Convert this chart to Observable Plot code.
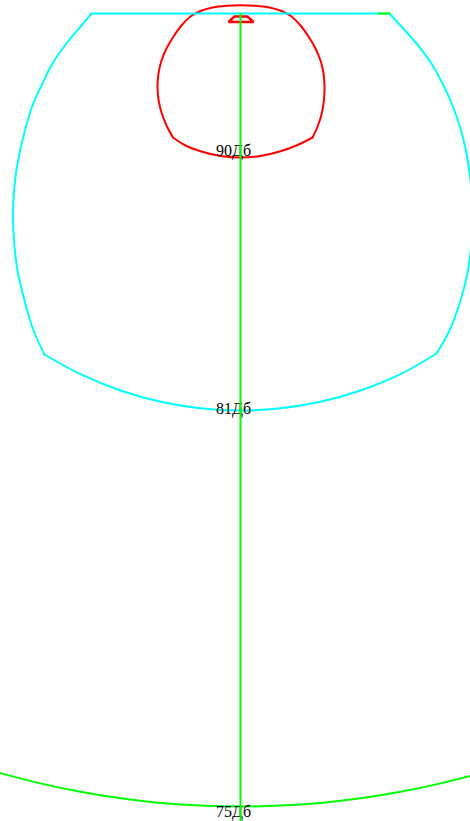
<!DOCTYPE html>
<html>
<head>
<meta charset="utf-8">
<script src="https://cdn.jsdelivr.net/npm/d3@7"></script>
<script src="https://cdn.jsdelivr.net/npm/@observablehq/plot@0.6"></script>
<style>
  html, body { margin: 0; padding: 0; background: #fff; overflow: hidden; }
  #chart svg { display: block; }
</style>
</head>
<body>
<div id="chart"></div>
<script>
// Coordinates: x = lateral offset from the axis, y = distance from the source line (same units)
// 90 dB contour (red): upper arc and lower arc
const red90Upper = [
  [-67.5,124],[-74,112],[-79,99],[-82,86],[-83,73],[-82,60],[-79,47],[-74,35],[-67,23],[-59,12],[-50,3],
  [-40,-2.5],[-28,-6],[-14,-7.8],[0.5,-8.3],[15,-7.8],[29,-6],[41,-2.5],[51,3],[60,12],[68,23],[75,35],
  [80,47],[83,60],[84,73],[83.5,86],[81.5,99],[77.5,112],[72,124]
];
const red90Lower = [
  [-67.5,124],[-55,132],[-40,137.8],[-20,142.5],[0,144],[20,142.5],[40,137.8],[57,131.5],[72,124]
];
// 81 dB contour (cyan): left side, straight top edge, right side, lower arc
const cyan81Left = [
  [-196,341],[-207,317],[-216,287],[-223,257],[-226.5,227],[-227.5,197],[-225.5,167],[-221,140],
  [-215,115],[-208,92],[-199,72],[-188,50],[-174,30],[-159,12],[-149,0]
];
const cyan81Top = [[-149,0],[149,0]];
const cyan81Right = [
  [149,0],[160,12],[176,30],[191,50],[203,72],[212,92],[220,115],[226,140],[230,167],[232,197],
  [231,227],[227.5,257],[220,287],[209,317],[196,340]
];
const cyan81Lower = [
  [-196,341],[-160,360.7],[-120,377],[-80,388.3],[-40,394.8],[0,397],
  [40,394.8],[80,388.3],[120,377],[160,360.7],[196,340]
];
// 75 dB contour (green): visible lower arc
const green75Lower = [
  [-240,759.6],[-200,769.9],[-160,778.3],[-120,784.8],[-80,789.4],[-40,792.1],[0,793],
  [40,792.1],[80,789.4],[120,784.8],[160,778.3],[200,769.9],[230,762.4]
];
const green75Top = [[138,0],[149,0]];
// Axis line and source marker
const axisLine = [[0,0],[0,808]];
const sourceMarker = [[-6,3],[7,3],[13,8.5],[-12,8.5],[-6,3]];
// Labels
const labelTexts = ["90Дб","81Дб","75Дб"];
const labelY = [142, 400, 803];

const toRows = (pts, id) => pts.map(([x, y]) => ({x, y, id}));

const redSegs = [...toRows(red90Upper, "r1"), ...toRows(red90Lower, "r2")];
const cyanSegs = [
  ...toRows(cyan81Left, "c1"), ...toRows(cyan81Top, "c2"),
  ...toRows(cyan81Right, "c3"), ...toRows(cyan81Lower, "c4")
];
const labels = labelTexts.map((t, i) => ({x: 0, y: labelY[i], t}));

const chart = Plot.plot({
  width: 470,
  height: 821,
  margin: 0,
  x: {domain: [-240, 230], range: [0, 470], axis: null},
  y: {domain: [-13, 808], range: [0, 821], axis: null},
  style: {background: "#fff", fontFamily: "'Liberation Serif', 'Times New Roman', serif", fontSize: "16px"},
  marks: [
    Plot.line(toRows(green75Lower, "g"), {x: "x", y: "y", stroke: "#00ff00", strokeWidth: 2, curve: "catmull-rom"}),
    Plot.line(redSegs, {x: "x", y: "y", z: "id", stroke: "#ff0000", strokeWidth: 2, curve: "catmull-rom"}),
    Plot.line(cyanSegs, {x: "x", y: "y", z: "id", stroke: "#00ffff", strokeWidth: 2, curve: "catmull-rom"}),
    Plot.line(toRows(green75Top, "gt"), {x: "x", y: "y", stroke: "#00ff00", strokeWidth: 2}),
    Plot.line(toRows(sourceMarker, "m"), {x: "x", y: "y", stroke: "#ff0000", strokeWidth: 2.5, strokeLinejoin: "miter"}),
    Plot.text(labels, {x: "x", y: "y", text: "t", dx: -7, lineAnchor: "bottom", fill: "#000", fontSize: 16}),
    Plot.line(toRows(axisLine, "a"), {x: "x", y: "y", stroke: "#00ff00", strokeWidth: 2})
  ]
});
document.getElementById("chart").appendChild(chart);
</script>
</body>
</html>
